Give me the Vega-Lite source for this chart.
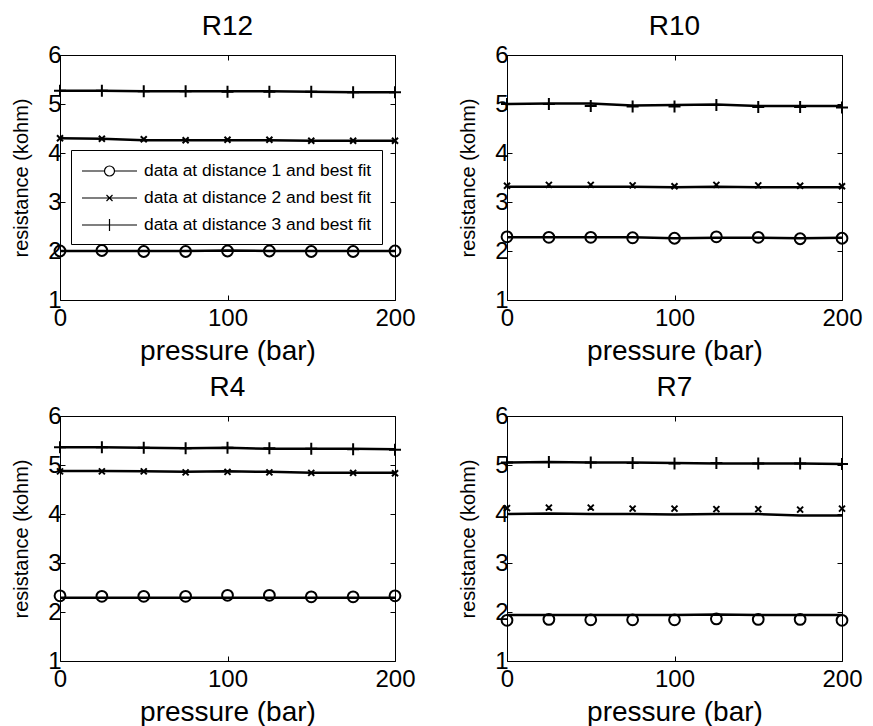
{
  "$schema": "https://vega.github.io/schema/vega-lite/v6.json",
  "background": "white",
  "padding": {"left": 11, "top": 12, "right": 5, "bottom": 5},
  "config": {
    "font": "Liberation Sans",
    "view": {"stroke": "black", "strokeWidth": 1},
    "axis": {"labelFont": "Liberation Sans", "labelFontSize": 24, "labelColor": "black", "titleFont": "Liberation Sans", "titleColor": "black", "titleFontWeight": "normal", "grid": false, "domain": false, "tickColor": "black", "tickSize": -5, "labelFlush": false, "minExtent": 0},
    "axisBottom": {"titleFontSize": 28, "titlePadding": 7, "labelPadding": 11},
    "axisLeft": {"titleFontSize": 20, "titlePadding": 16, "labelPadding": 4},
    "axisTop": {"maxExtent": 0},
    "axisRight": {"maxExtent": 0},
    "title": {"font": "Liberation Sans", "fontSize": 28, "fontWeight": "normal", "color": "black", "offset": 2}
  },
  "data": {"values": [
    {"panel":"R12","s":1,"p":0,"data":2.00,"fit":2.00},{"panel":"R12","s":1,"p":25,"data":2.01,"fit":2.00},{"panel":"R12","s":1,"p":50,"data":1.99,"fit":2.00},{"panel":"R12","s":1,"p":75,"data":1.99,"fit":2.00},{"panel":"R12","s":1,"p":100,"data":2.00,"fit":2.01},{"panel":"R12","s":1,"p":125,"data":2.00,"fit":2.00},{"panel":"R12","s":1,"p":150,"data":1.99,"fit":2.00},{"panel":"R12","s":1,"p":175,"data":1.99,"fit":2.00},{"panel":"R12","s":1,"p":200,"data":2.00,"fit":2.00},
    {"panel":"R12","s":2,"p":0,"data":4.30,"fit":4.30},{"panel":"R12","s":2,"p":25,"data":4.29,"fit":4.29},{"panel":"R12","s":2,"p":50,"data":4.28,"fit":4.26},{"panel":"R12","s":2,"p":75,"data":4.26,"fit":4.26},{"panel":"R12","s":2,"p":100,"data":4.27,"fit":4.26},{"panel":"R12","s":2,"p":125,"data":4.27,"fit":4.26},{"panel":"R12","s":2,"p":150,"data":4.25,"fit":4.25},{"panel":"R12","s":2,"p":175,"data":4.25,"fit":4.25},{"panel":"R12","s":2,"p":200,"data":4.25,"fit":4.25},
    {"panel":"R12","s":3,"p":0,"data":5.27,"fit":5.27},{"panel":"R12","s":3,"p":25,"data":5.27,"fit":5.27},{"panel":"R12","s":3,"p":50,"data":5.26,"fit":5.26},{"panel":"R12","s":3,"p":75,"data":5.26,"fit":5.26},{"panel":"R12","s":3,"p":100,"data":5.25,"fit":5.26},{"panel":"R12","s":3,"p":125,"data":5.25,"fit":5.26},{"panel":"R12","s":3,"p":150,"data":5.25,"fit":5.25},{"panel":"R12","s":3,"p":175,"data":5.24,"fit":5.24},{"panel":"R12","s":3,"p":200,"data":5.24,"fit":5.24},
    {"panel":"R10","s":1,"p":0,"data":2.29,"fit":2.28},{"panel":"R10","s":1,"p":25,"data":2.28,"fit":2.28},{"panel":"R10","s":1,"p":50,"data":2.28,"fit":2.28},{"panel":"R10","s":1,"p":75,"data":2.27,"fit":2.28},{"panel":"R10","s":1,"p":100,"data":2.26,"fit":2.26},{"panel":"R10","s":1,"p":125,"data":2.29,"fit":2.27},{"panel":"R10","s":1,"p":150,"data":2.28,"fit":2.27},{"panel":"R10","s":1,"p":175,"data":2.25,"fit":2.26},{"panel":"R10","s":1,"p":200,"data":2.26,"fit":2.27},
    {"panel":"R10","s":2,"p":0,"data":3.33,"fit":3.31},{"panel":"R10","s":2,"p":25,"data":3.35,"fit":3.31},{"panel":"R10","s":2,"p":50,"data":3.35,"fit":3.31},{"panel":"R10","s":2,"p":75,"data":3.34,"fit":3.31},{"panel":"R10","s":2,"p":100,"data":3.32,"fit":3.30},{"panel":"R10","s":2,"p":125,"data":3.35,"fit":3.31},{"panel":"R10","s":2,"p":150,"data":3.34,"fit":3.30},{"panel":"R10","s":2,"p":175,"data":3.33,"fit":3.30},{"panel":"R10","s":2,"p":200,"data":3.32,"fit":3.30},
    {"panel":"R10","s":3,"p":0,"data":5.00,"fit":5.00},{"panel":"R10","s":3,"p":25,"data":5.00,"fit":5.01},{"panel":"R10","s":3,"p":50,"data":4.96,"fit":5.01},{"panel":"R10","s":3,"p":75,"data":4.95,"fit":4.97},{"panel":"R10","s":3,"p":100,"data":4.95,"fit":4.98},{"panel":"R10","s":3,"p":125,"data":4.98,"fit":4.99},{"panel":"R10","s":3,"p":150,"data":4.94,"fit":4.96},{"panel":"R10","s":3,"p":175,"data":4.94,"fit":4.96},{"panel":"R10","s":3,"p":200,"data":4.93,"fit":4.96},
    {"panel":"R4","s":1,"p":0,"data":2.33,"fit":2.29},{"panel":"R4","s":1,"p":25,"data":2.32,"fit":2.29},{"panel":"R4","s":1,"p":50,"data":2.32,"fit":2.29},{"panel":"R4","s":1,"p":75,"data":2.32,"fit":2.29},{"panel":"R4","s":1,"p":100,"data":2.34,"fit":2.29},{"panel":"R4","s":1,"p":125,"data":2.34,"fit":2.29},{"panel":"R4","s":1,"p":150,"data":2.31,"fit":2.29},{"panel":"R4","s":1,"p":175,"data":2.31,"fit":2.29},{"panel":"R4","s":1,"p":200,"data":2.33,"fit":2.29},
    {"panel":"R4","s":2,"p":0,"data":4.87,"fit":4.88},{"panel":"R4","s":2,"p":25,"data":4.87,"fit":4.88},{"panel":"R4","s":2,"p":50,"data":4.87,"fit":4.87},{"panel":"R4","s":2,"p":75,"data":4.85,"fit":4.86},{"panel":"R4","s":2,"p":100,"data":4.86,"fit":4.87},{"panel":"R4","s":2,"p":125,"data":4.85,"fit":4.86},{"panel":"R4","s":2,"p":150,"data":4.84,"fit":4.84},{"panel":"R4","s":2,"p":175,"data":4.84,"fit":4.84},{"panel":"R4","s":2,"p":200,"data":4.83,"fit":4.84},
    {"panel":"R4","s":3,"p":0,"data":5.36,"fit":5.36},{"panel":"R4","s":3,"p":25,"data":5.36,"fit":5.36},{"panel":"R4","s":3,"p":50,"data":5.35,"fit":5.35},{"panel":"R4","s":3,"p":75,"data":5.34,"fit":5.34},{"panel":"R4","s":3,"p":100,"data":5.35,"fit":5.35},{"panel":"R4","s":3,"p":125,"data":5.34,"fit":5.33},{"panel":"R4","s":3,"p":150,"data":5.33,"fit":5.33},{"panel":"R4","s":3,"p":175,"data":5.32,"fit":5.33},{"panel":"R4","s":3,"p":200,"data":5.31,"fit":5.32},
    {"panel":"R7","s":1,"p":0,"data":1.83,"fit":1.94},{"panel":"R7","s":1,"p":25,"data":1.85,"fit":1.94},{"panel":"R7","s":1,"p":50,"data":1.84,"fit":1.94},{"panel":"R7","s":1,"p":75,"data":1.84,"fit":1.94},{"panel":"R7","s":1,"p":100,"data":1.84,"fit":1.94},{"panel":"R7","s":1,"p":125,"data":1.86,"fit":1.95},{"panel":"R7","s":1,"p":150,"data":1.85,"fit":1.94},{"panel":"R7","s":1,"p":175,"data":1.85,"fit":1.94},{"panel":"R7","s":1,"p":200,"data":1.83,"fit":1.94},
    {"panel":"R7","s":2,"p":0,"data":4.12,"fit":4.00},{"panel":"R7","s":2,"p":25,"data":4.13,"fit":4.01},{"panel":"R7","s":2,"p":50,"data":4.13,"fit":4.00},{"panel":"R7","s":2,"p":75,"data":4.11,"fit":4.00},{"panel":"R7","s":2,"p":100,"data":4.11,"fit":3.99},{"panel":"R7","s":2,"p":125,"data":4.10,"fit":4.00},{"panel":"R7","s":2,"p":150,"data":4.10,"fit":4.00},{"panel":"R7","s":2,"p":175,"data":4.09,"fit":3.97},{"panel":"R7","s":2,"p":200,"data":4.11,"fit":3.97},
    {"panel":"R7","s":3,"p":0,"data":5.05,"fit":5.05},{"panel":"R7","s":3,"p":25,"data":5.06,"fit":5.06},{"panel":"R7","s":3,"p":50,"data":5.05,"fit":5.05},{"panel":"R7","s":3,"p":75,"data":5.04,"fit":5.05},{"panel":"R7","s":3,"p":100,"data":5.03,"fit":5.04},{"panel":"R7","s":3,"p":125,"data":5.04,"fit":5.03},{"panel":"R7","s":3,"p":150,"data":5.03,"fit":5.03},{"panel":"R7","s":3,"p":175,"data":5.03,"fit":5.03},{"panel":"R7","s":3,"p":200,"data":5.02,"fit":5.02}
  ]},
  "columns": 2,
  "spacing": {"row": 116, "column": 112},
  "bounds": "flush",
  "resolve": {"scale": {"shape": "independent"}, "legend": {"shape": "independent"}},
  "concat": [
    {
      "title": "R12", "width": 335, "height": 245,
      "transform": [{"filter": "datum.panel === 'R12'"}],
      "layer": [
        {"mark": {"type": "line", "color": "black", "strokeWidth": 2.5},
         "encoding": {
           "x": {"field": "p", "type": "quantitative", "scale": {"domain": [0, 200]}, "axis": {"orient": "top", "labels": false, "title": null, "values": [0, 100, 200]}},
           "y": {"field": "fit", "type": "quantitative", "scale": {"domain": [1, 6]}, "axis": {"orient": "right", "labels": false, "title": null, "values": [1, 2, 3, 4, 5, 6]}},
           "detail": {"field": "s", "type": "nominal"}}},
        {"mark": {"type": "point", "filled": false, "stroke": "black", "strokeWidth": 2, "opacity": 1, "size": 144},
         "encoding": {
           "x": {"field": "p", "type": "quantitative", "scale": {"domain": [0, 200]}, "axis": {"orient": "bottom", "title": "pressure (bar)", "values": [0, 100, 200]}},
           "y": {"field": "data", "type": "quantitative", "scale": {"domain": [1, 6]}, "axis": {"orient": "left", "title": "resistance (kohm)", "values": [1, 2, 3, 4, 5, 6]}},
           "shape": {"field": "s", "type": "nominal", "scale": {"domain": [1, 2, 3], "range": ["M-0.9,0A0.9,0.9 0 1 1 0.9,0A0.9,0.9 0 1 1 -0.9,0Z", "M-0.5,-0.5L0.5,0.5M-0.5,0.5L0.5,-0.5", "M-1,0L1,0M0,-1L0,1"]}, "legend": null}}},
        {"transform": [{"filter": "datum.p < 0"}],
         "mark": {"type": "point", "filled": false, "stroke": "black", "strokeWidth": 1.2, "opacity": 1, "size": 400},
         "encoding": {
           "x": {"field": "p", "type": "quantitative", "axis": null},
           "y": {"field": "data", "type": "quantitative", "axis": null},
           "shape": {"field": "s", "type": "nominal", "scale": {"domain": [1, 2, 3], "range": ["M-1,0L1.25,0M2.25,0L4.5,0M1.25,0A0.5,0.5 0 1 1 2.25,0A0.5,0.5 0 1 1 1.25,0", "M-1,0L4.5,0M1.45,-0.3L2.05,0.3M1.45,0.3L2.05,-0.3", "M-1,0L4.5,0M1.75,-0.6L1.75,0.6"]},
             "legend": {"title": null, "orient": "none", "legendX": 11, "legendY": 95, "padding": 10, "strokeColor": "black", "fillColor": "white", "labelFont": "Liberation Sans", "labelFontSize": 17.4, "labelColor": "black", "labelOffset": 41, "labelLimit": 500, "rowPadding": 7, "symbolSize": 400, "symbolStrokeWidth": 1.2, "symbolStrokeColor": "black",
               "labelExpr": "'data at distance ' + datum.label + ' and best fit\u00a0\u00a0\u00a0\u00a0\u00a0'"}}}}
      ],
      "resolve": {"axis": {"x": "independent", "y": "independent"}, "scale": {"shape": "independent"}}
    },
    {
      "title": "R10", "width": 335, "height": 245,
      "transform": [{"filter": "datum.panel === 'R10'"}],
      "layer": [
        {"mark": {"type": "line", "color": "black", "strokeWidth": 2.5},
         "encoding": {
           "x": {"field": "p", "type": "quantitative", "scale": {"domain": [0, 200]}, "axis": {"orient": "top", "labels": false, "title": null, "values": [0, 100, 200]}},
           "y": {"field": "fit", "type": "quantitative", "scale": {"domain": [1, 6]}, "axis": {"orient": "right", "labels": false, "title": null, "values": [1, 2, 3, 4, 5, 6]}},
           "detail": {"field": "s", "type": "nominal"}}},
        {"mark": {"type": "point", "filled": false, "stroke": "black", "strokeWidth": 2, "opacity": 1, "size": 144},
         "encoding": {
           "x": {"field": "p", "type": "quantitative", "scale": {"domain": [0, 200]}, "axis": {"orient": "bottom", "title": "pressure (bar)", "values": [0, 100, 200]}},
           "y": {"field": "data", "type": "quantitative", "scale": {"domain": [1, 6]}, "axis": {"orient": "left", "title": "resistance (kohm)", "values": [1, 2, 3, 4, 5, 6]}},
           "shape": {"field": "s", "type": "nominal", "scale": {"domain": [1, 2, 3], "range": ["M-0.9,0A0.9,0.9 0 1 1 0.9,0A0.9,0.9 0 1 1 -0.9,0Z", "M-0.5,-0.5L0.5,0.5M-0.5,0.5L0.5,-0.5", "M-1,0L1,0M0,-1L0,1"]}, "legend": null}}}
      ],
      "resolve": {"axis": {"x": "independent", "y": "independent"}}
    },
    {
      "title": "R4", "width": 335, "height": 245,
      "transform": [{"filter": "datum.panel === 'R4'"}],
      "layer": [
        {"mark": {"type": "line", "color": "black", "strokeWidth": 2.5},
         "encoding": {
           "x": {"field": "p", "type": "quantitative", "scale": {"domain": [0, 200]}, "axis": {"orient": "top", "labels": false, "title": null, "values": [0, 100, 200]}},
           "y": {"field": "fit", "type": "quantitative", "scale": {"domain": [1, 6]}, "axis": {"orient": "right", "labels": false, "title": null, "values": [1, 2, 3, 4, 5, 6]}},
           "detail": {"field": "s", "type": "nominal"}}},
        {"mark": {"type": "point", "filled": false, "stroke": "black", "strokeWidth": 2, "opacity": 1, "size": 144},
         "encoding": {
           "x": {"field": "p", "type": "quantitative", "scale": {"domain": [0, 200]}, "axis": {"orient": "bottom", "title": "pressure (bar)", "values": [0, 100, 200]}},
           "y": {"field": "data", "type": "quantitative", "scale": {"domain": [1, 6]}, "axis": {"orient": "left", "title": "resistance (kohm)", "values": [1, 2, 3, 4, 5, 6]}},
           "shape": {"field": "s", "type": "nominal", "scale": {"domain": [1, 2, 3], "range": ["M-0.9,0A0.9,0.9 0 1 1 0.9,0A0.9,0.9 0 1 1 -0.9,0Z", "M-0.5,-0.5L0.5,0.5M-0.5,0.5L0.5,-0.5", "M-1,0L1,0M0,-1L0,1"]}, "legend": null}}}
      ],
      "resolve": {"axis": {"x": "independent", "y": "independent"}}
    },
    {
      "title": "R7", "width": 335, "height": 245,
      "transform": [{"filter": "datum.panel === 'R7'"}],
      "layer": [
        {"mark": {"type": "line", "color": "black", "strokeWidth": 2.5},
         "encoding": {
           "x": {"field": "p", "type": "quantitative", "scale": {"domain": [0, 200]}, "axis": {"orient": "top", "labels": false, "title": null, "values": [0, 100, 200]}},
           "y": {"field": "fit", "type": "quantitative", "scale": {"domain": [1, 6]}, "axis": {"orient": "right", "labels": false, "title": null, "values": [1, 2, 3, 4, 5, 6]}},
           "detail": {"field": "s", "type": "nominal"}}},
        {"mark": {"type": "point", "filled": false, "stroke": "black", "strokeWidth": 2, "opacity": 1, "size": 144},
         "encoding": {
           "x": {"field": "p", "type": "quantitative", "scale": {"domain": [0, 200]}, "axis": {"orient": "bottom", "title": "pressure (bar)", "values": [0, 100, 200]}},
           "y": {"field": "data", "type": "quantitative", "scale": {"domain": [1, 6]}, "axis": {"orient": "left", "title": "resistance (kohm)", "values": [1, 2, 3, 4, 5, 6]}},
           "shape": {"field": "s", "type": "nominal", "scale": {"domain": [1, 2, 3], "range": ["M-0.9,0A0.9,0.9 0 1 1 0.9,0A0.9,0.9 0 1 1 -0.9,0Z", "M-0.5,-0.5L0.5,0.5M-0.5,0.5L0.5,-0.5", "M-1,0L1,0M0,-1L0,1"]}, "legend": null}}}
      ],
      "resolve": {"axis": {"x": "independent", "y": "independent"}}
    }
  ]
}
